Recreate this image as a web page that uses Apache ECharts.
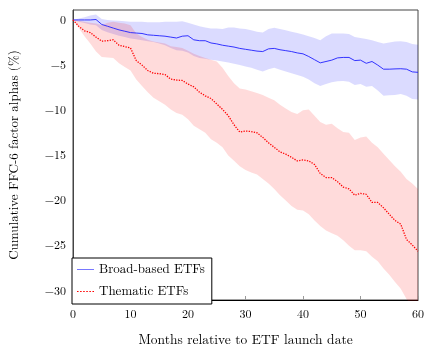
<!DOCTYPE html>
<html>
<head>
<meta charset="utf-8">
<script src="https://cdn.jsdelivr.net/npm/echarts@6/dist/echarts.min.js"></script>
<style>
  html, body { margin: 0; padding: 0; background: #fff; }
  #chart { width: 431px; height: 352px; }
</style>
</head>
<body>
<div id="chart"></div>
<script>
// months 0..60
var months = [];
for (var i = 0; i <= 60; i++) months.push(String(i));

// broad-based ETFs: mean and band
var broadMean = [0, 0, 0, 0, 0.05, -0.5, -0.7, -0.9, -1.1, -1.25, -1.4, -1.45, -1.5, -1.65, -1.7, -1.75,
  -1.8, -1.9, -2.0, -1.8, -1.75, -2.2, -2.3, -2.3, -2.55, -2.65, -2.8, -2.9, -3.0, -3.15, -3.25,
  -3.35, -3.45, -3.5, -3.2, -3.15, -3.3, -3.4, -3.5, -3.65, -3.75, -4.05, -4.4, -4.75, -4.6, -4.45,
  -4.2, -4.15, -4.15, -4.5, -4.45, -4.8, -4.6, -5.0, -5.45, -5.45, -5.42, -5.4, -5.45, -5.75, -5.8];
var broadUpper = [0, 0.15, 0.3, 0.5, 0.6, 0.1, 0.0, -0.05, -0.1, -0.15, -0.2, -0.2, -0.2, -0.25, -0.25, -0.25,
  -0.2, -0.2, -0.2, -0.15, -0.3, -0.5, -0.7, -0.85, -0.95, -0.95, -1.0, -0.85, -0.85, -0.95, -1.0,
  -1.15, -1.3, -1.4, -1.0, -0.87, -1.0, -1.15, -1.3, -1.45, -1.6, -1.8, -2.0, -2.25, -1.8, -1.5,
  -1.5, -1.5, -1.55, -1.9, -2.0, -2.1, -2.25, -2.45, -2.6, -2.5, -2.4, -2.36, -2.45, -2.65, -2.75];
var broadLower = [0, -0.2, -0.35, -0.5, -0.6, -1.1, -1.35, -1.55, -1.75, -1.9, -2.05, -2.15, -2.25, -2.35, -2.45, -2.6,
  -2.8, -3.1, -3.35, -3.4, -3.6, -4.0, -4.2, -4.3, -4.4, -4.5, -4.6, -4.7, -4.85, -5.0, -5.15,
  -5.3, -5.5, -5.7, -5.45, -5.3, -5.5, -5.7, -5.9, -6.1, -6.3, -6.6, -7.0, -7.3, -7.1, -6.9,
  -6.8, -6.75, -6.85, -7.2, -7.1, -7.4, -7.3, -7.8, -8.4, -8.35, -8.3, -8.2, -8.4, -8.75, -8.8];

// thematic ETFs: mean and band
var themMean = [0, -0.7, -1.2, -1.4, -1.9, -2.35, -2.3, -2.2, -2.8, -2.95, -3.1, -4.5, -5.0, -5.6, -5.9, -5.95,
  -6.05, -6.55, -6.65, -6.7, -7.1, -7.4, -8.0, -8.4, -8.7, -9.3, -9.9, -10.6, -11.6, -12.4, -12.3,
  -12.35, -12.5, -13.0, -13.6, -14.1, -14.6, -14.85, -15.2, -15.6, -15.5, -15.6, -16.0, -17.0, -17.45, -17.45,
  -17.9, -18.5, -18.7, -19.4, -19.2, -19.3, -20.2, -20.2, -20.8, -21.5, -22.2, -22.6, -24.3, -24.9, -25.6];
var themUpper = [0, -0.1, -0.2, -0.3, -0.4, -0.6, -0.3, -0.2, -0.3, -0.4, -0.6, -1.5, -1.9, -2.2, -2.4, -2.5,
  -2.6, -2.9, -3.0, -3.1, -3.4, -3.75, -4.0, -4.2, -4.4, -4.6, -5.3, -6.2, -7.0, -7.6, -7.7,
  -7.9, -8.1, -8.3, -8.6, -8.9, -9.4, -9.8, -10.2, -10.4, -10.0, -9.9, -10.6, -11.3, -11.6, -11.5,
  -12.0, -12.4, -12.5, -13.3, -13.0, -12.9, -13.6, -14.1, -14.8, -15.5, -16.2, -16.8, -17.6, -18.1, -18.7];
var themLower = [0, -0.9, -1.8, -2.6, -3.5, -4.1, -4.15, -4.2, -4.8, -5.2, -5.6, -6.6, -7.3, -8.0, -8.6, -9.0,
  -9.4, -9.9, -10.3, -10.5, -11.0, -11.7, -12.1, -12.5, -13.2, -13.6, -14.1, -15.0, -15.6, -16.2, -16.6,
  -16.9, -17.1, -17.6, -18.1, -18.7, -19.4, -20.0, -20.6, -21.0, -21.1, -21.5, -22.2, -22.8, -23.3, -23.6,
  -23.9, -24.4, -25.0, -25.5, -25.5, -25.6, -26.2, -26.7, -27.5, -28.2, -29.0, -29.75, -30.9, -31.6, -32.2];

var serif = '"Latin Modern Roman", "DejaVu Serif", serif';

function widths(up, lo) {
  return up.map(function (u, i) { return +(u - lo[i]).toFixed(3); });
}
function minus(v) {
  return v < 0 ? '\u2212' + Math.abs(v) : String(v);
}

var chart = echarts.init(document.getElementById('chart'));

chart.setOption({
  animation: false,
  backgroundColor: '#fff',
  grid: {
    left: 70, right: 13, top: 10, bottom: 47,
    show: true, borderColor: '#444', borderWidth: 1
  },
  legend: {
    data: [
      { name: 'Broad-based ETFs', icon: 'path://M0,0h18v1h-18z', itemStyle: { color: '#7070ff' } },
      { name: 'Thematic ETFs', icon: 'path://M0,0h1.5v1h-1.5zM3,0h1.5v1h-1.5zM6,0h1.5v1h-1.5zM9,0h1.5v1h-1.5zM12,0h1.5v1h-1.5zM15,0h1.5v1h-1.5z', itemStyle: { color: '#ff0000' } }
    ],
    orient: 'vertical',
    left: 72, top: 258,
    itemWidth: 17, itemHeight: 1.3, itemGap: 9,
    padding: [5, 7, 6, 5],
    borderColor: '#000', borderWidth: 1,
    backgroundColor: '#fff',
    textStyle: { fontFamily: serif, fontSize: 13, color: '#000' }
  },
  xAxis: {
    type: 'category',
    data: months,
    boundaryGap: false,
    name: 'Months relative to ETF launch date',
    nameLocation: 'middle', nameGap: 33,
    nameTextStyle: { fontFamily: serif, fontSize: 13.5, color: '#000' },
    axisLine: { onZero: false, lineStyle: { color: '#000' } },
    axisTick: { inside: true, length: 4, interval: 9, lineStyle: { color: '#999' } },
    axisLabel: { fontFamily: serif, fontSize: 12, color: '#000', margin: 8, interval: 9 },
    splitLine: { show: false }
  },
  yAxis: {
    type: 'value',
    min: -31, max: 1.1,
    minInterval: 5, maxInterval: 5,
    name: 'Cumulative FFC-6 factor alphas (%)',
    nameLocation: 'middle', nameGap: 52,
    nameTextStyle: { fontFamily: serif, fontSize: 13, color: '#000' },
    axisLine: { show: true, lineStyle: { color: '#444' } },
    axisTick: { inside: true, length: 4, lineStyle: { color: '#999' } },
    axisLabel: {
      fontFamily: serif, fontSize: 12, color: '#000', margin: 7,
      formatter: function (v) { return v % 5 === 0 ? minus(v) : ''; }
    },
    splitLine: { show: false }
  },
  series: [
    { // blue band base
      name: 'bb-lo', type: 'line', stack: 'broad', stackStrategy: 'all',
      data: broadLower, symbol: 'none', silent: true,
      lineStyle: { opacity: 0 }, z: 1
    },
    { // blue band
      name: 'bb-band', type: 'line', stack: 'broad', stackStrategy: 'all',
      data: widths(broadUpper, broadLower), symbol: 'none', silent: true,
      lineStyle: { opacity: 0 },
      areaStyle: { color: 'rgba(0,0,255,0.14)', opacity: 1 }, z: 1
    },
    { // red band base
      name: 'th-lo', type: 'line', stack: 'them', stackStrategy: 'all',
      data: themLower, symbol: 'none', silent: true,
      lineStyle: { opacity: 0 }, z: 2
    },
    { // red band
      name: 'th-band', type: 'line', stack: 'them', stackStrategy: 'all',
      data: widths(themUpper, themLower), symbol: 'none', silent: true,
      lineStyle: { opacity: 0 },
      areaStyle: { color: 'rgba(255,0,0,0.14)', opacity: 1 }, z: 2
    },
    {
      name: 'Broad-based ETFs', type: 'line',
      data: broadMean, symbol: 'none',
      lineStyle: { color: '#2020ff', width: 0.9 },
      itemStyle: { color: '#2020ff' }, z: 5
    },
    {
      name: 'Thematic ETFs', type: 'line',
      data: themMean, symbol: 'none',
      lineStyle: { color: '#ff0000', width: 1.3, type: [1.3, 1.3] },
      itemStyle: { color: '#ff0000' }, z: 5
    }
  ]
});
</script>
</body>
</html>
